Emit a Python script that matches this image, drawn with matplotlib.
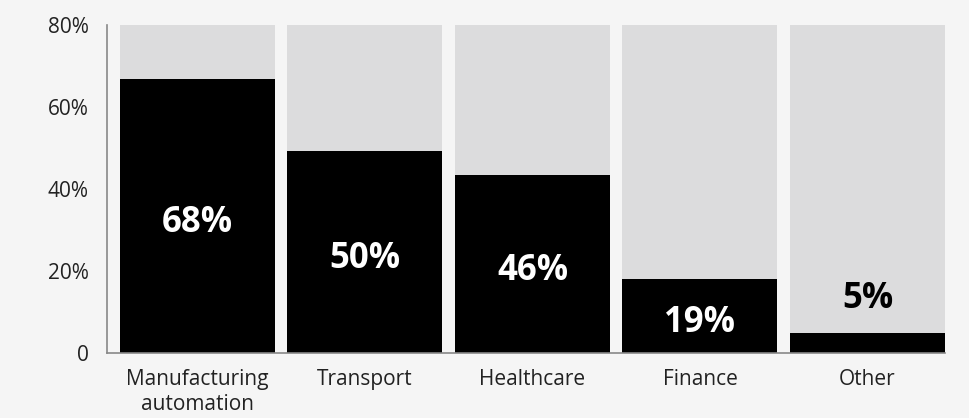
import matplotlib.pyplot as plt

# datos
categorias = ["Manufacturing\nautomation", "Transport", "Healthcare", "Finance", "Other"]
alturas = [66.8, 49.2, 43.4, 18.0, 4.8]
etiquetas = ["68%", "50%", "46%", "19%", "5%"]
tope = [80, 80, 80, 80, 80]
yticks = [0, 20, 40, 60, 80]
ytick_labels = ["0", "20%", "40%", "60%", "80%"]

plt.rcParams['font.family'] = ['Open Sans', 'DejaVu Sans']

fig = plt.figure(figsize=(9.69, 4.18), dpi=100)
fig.patch.set_facecolor('#f5f5f5')
ax = fig.add_axes([0.1104, 0.156, 0.8648, 0.784])
ax.set_facecolor('#f5f5f5')

x = range(len(categorias))
ax.bar(x, tope, width=0.925, color='#dcdcdd', zorder=1)
ax.bar(x, alturas, width=0.925, color='black', zorder=2)

for i, (h, t) in enumerate(zip(alturas, etiquetas)):
    if h > 10:
        ax.text(i, h / 2 - 1.8, t, ha='center', va='center', color='white',
                fontsize=25, fontweight='bold', zorder=3)
    else:
        ax.text(i, h + 8.3, t, ha='center', va='center', color='black',
                fontsize=25, fontweight='bold', zorder=3)

ax.set_xlim(-0.540, 4.4627)
ax.set_ylim(0, 80)
ax.set_xticks(list(x))
ax.set_xticklabels(categorias, fontsize=15, color='#222222', linespacing=1.2)
ax.set_yticks(yticks)
ax.set_yticklabels(ytick_labels, fontsize=15, color='#222222')
ax.tick_params(length=0)
ax.tick_params(axis='y', pad=13)
ax.tick_params(axis='x', pad=12)

for s in ['top', 'right']:
    ax.spines[s].set_visible(False)
for s in ['left', 'bottom']:
    ax.spines[s].set_color('#888888')
    ax.spines[s].set_linewidth(1.2)

fig.savefig("out.png", dpi=100, facecolor=fig.get_facecolor())
